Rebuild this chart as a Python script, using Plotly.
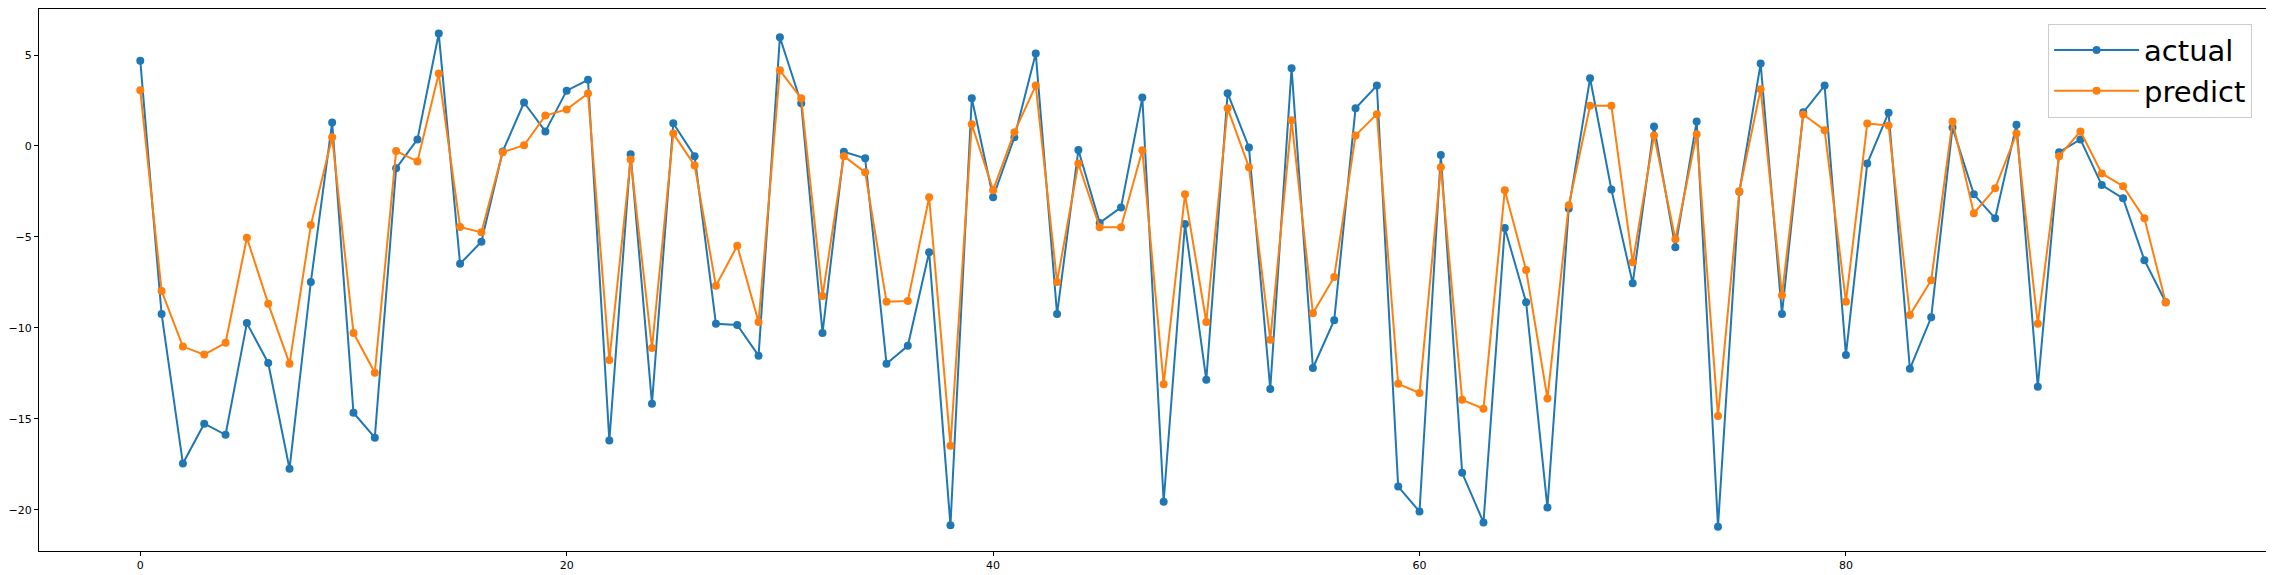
import plotly.graph_objects as go

x_index = list(range(96))

actual = [
    4.69, -9.24, -17.46, -15.27, -15.88, -9.74, -11.93, -17.75, -7.48, 1.29,
    -14.67, -16.04, -1.23, 0.36, 6.18, -6.48, -5.27, -0.30, 2.39, 0.80,
    3.04, 3.64, -16.20, -0.46, -14.17, 1.25, -0.56, -9.78, -9.84, -11.53,
    5.98, 2.35, -10.28, -0.32, -0.68, -11.97, -10.99, -5.84, -20.86, 2.62,
    -2.82, 0.48, 5.09, -9.24, -0.22, -4.23, -3.38, 2.66, -19.56, -4.29,
    -12.86, 2.90, -0.08, -13.36, 4.27, -12.21, -9.58, 2.07, 3.32, -18.73,
    -20.10, -0.50, -17.97, -20.70, -4.51, -8.59, -19.88, -3.44, 3.72, -2.39,
    -7.55, 1.07, -5.57, 1.35, -20.93, -2.52, 4.53, -9.24, 1.85, 3.32,
    -11.49, -0.97, 1.83, -12.25, -9.42, 1.01, -2.66, -3.98, 1.17, -13.24,
    -0.34, 0.36, -2.15, -2.88, -6.28, -8.59,
]

predict = [
    3.06, -7.97, -11.03, -11.47, -10.82, -5.05, -8.67, -11.97, -4.35, 0.48,
    -10.28, -12.47, -0.28, -0.85, 3.98, -4.45, -4.75, -0.34, 0.04, 1.67,
    2.01, 2.88, -11.77, -0.74, -11.11, 0.68, -1.07, -7.69, -5.49, -9.68,
    4.16, 2.62, -8.25, -0.56, -1.45, -8.57, -8.53, -2.82, -16.48, 1.19,
    -2.43, 0.76, 3.32, -7.48, -0.97, -4.47, -4.47, -0.24, -13.10, -2.66,
    -9.68, 2.07, -1.17, -10.66, 1.41, -9.20, -7.20, 0.58, 1.75, -13.08,
    -13.58, -1.17, -13.96, -14.45, -2.43, -6.82, -13.88, -3.26, 2.21, 2.21,
    -6.40, 0.58, -5.13, 0.64, -14.85, -2.49, 3.12, -8.21, 1.73, 0.87,
    -8.57, 1.23, 1.13, -9.30, -7.38, 1.35, -3.70, -2.33, 0.68, -9.78,
    -0.56, 0.80, -1.51, -2.21, -3.98, -8.61,
]

x_ticks = [0, 20, 40, 60, 80]
y_ticks = [-20, -15, -10, -5, 0, 5]

fig = go.Figure()
fig.add_trace(go.Scatter(
    x=x_index, y=actual, mode="lines+markers", name="actual",
    line=dict(color="#1f77b4", width=2),
    marker=dict(color="#1f77b4", size=8),
))
fig.add_trace(go.Scatter(
    x=x_index, y=predict, mode="lines+markers", name="predict",
    line=dict(color="#ff7f0e", width=2),
    marker=dict(color="#ff7f0e", size=8),
))

axis_common = dict(
    showline=True, linecolor="black", linewidth=1, mirror=True,
    ticks="outside", ticklen=4, tickwidth=1, tickcolor="black",
    showgrid=False, zeroline=False, automargin=False,
    tickfont=dict(family="DejaVu Sans", size=11, color="black"),
)

# page body has an 8px margin, so the figure is sized to fit the window
fig.update_layout(
    width=2266, height=567,
    margin=dict(l=31, r=7, t=1, b=24),
    paper_bgcolor="white", plot_bgcolor="white",
    xaxis=dict(range=[-4.75, 99.75], tickvals=x_ticks, **axis_common),
    yaxis=dict(range=[-22.27, 7.53], tickvals=y_ticks, **axis_common),
    legend=dict(
        x=0.9933, y=0.973, xanchor="right", yanchor="top",
        font=dict(family="DejaVu Sans", size=29, color="black"),
        bgcolor="rgba(255,255,255,0.8)", bordercolor="#cccccc", borderwidth=1,
        tracegroupgap=0, itemwidth=85,
    ),
    showlegend=True,
)

fig.write_html("out.html")
